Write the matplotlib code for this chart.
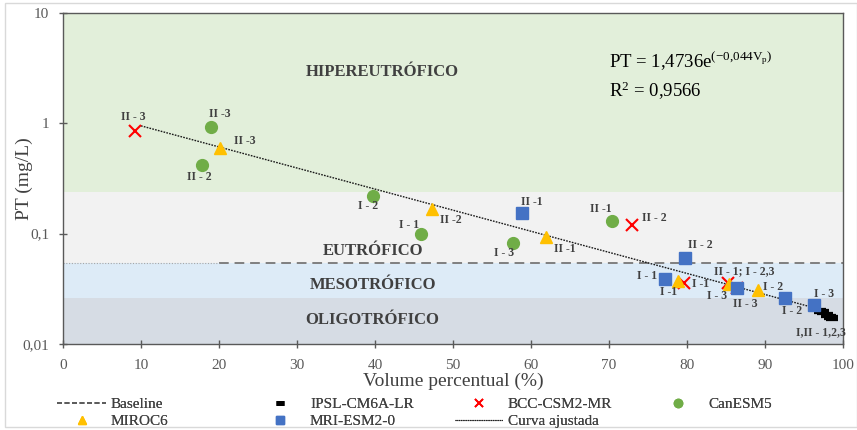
import matplotlib.pyplot as plt
import numpy as np
from matplotlib.lines import Line2D
from matplotlib.patches import Rectangle

plt.rcParams["font.family"] = ["Liberation Serif", "DejaVu Serif"]
plt.rcParams["mathtext.fontset"] = "custom"
plt.rcParams["mathtext.rm"] = "Liberation Serif"
plt.rcParams["mathtext.it"] = "Liberation Serif:italic"

# trophic classes: lower / upper PT limits (mg/L)
class_names = ["OLIGOTRÓFICO", "MESOTRÓFICO", "EUTRÓFICO", "HIPEREUTRÓFICO"]
class_limits = [0.01, 0.026, 0.054, 0.24, 10.0]
class_colors = ["#d6dce4", "#ddebf7", "#f2f2f2", "#e2efda"]

baseline_pt = 0.054
baseline_range = [20, 100]

# fitted curve  PT = a * exp(b * Vp)
fit_a = 1.4736
fit_b = -0.044
fit_r2 = 0.9566
fit_range = [10, 97.5]

ipsl_x = [97.0, 97.4, 97.9, 98.3, 98.6]
ipsl_y = [0.0198, 0.0195, 0.0185, 0.0175, 0.0172]
ipsl_lbl = ["", "", "", "", "I,II - 1,2,3"]

bcc_x = [9.2, 73.0, 79.6, 85.3, 86.4]
bcc_y = [0.85, 0.12, 0.036, 0.036, 0.032]
bcc_lbl = ["II - 3", "II - 2", "I -1", "II - 1; I - 2,3", ""]

can_x = [19.0, 17.8, 39.7, 45.9, 57.7, 70.4]
can_y = [0.92, 0.42, 0.22, 0.10, 0.082, 0.13]
can_lbl = ["II -3", "II - 2", "I - 2", "I - 1", "I - 3", "II -1"]

miroc_x = [20.1, 47.3, 61.9, 78.8, 85.4, 89.1]
miroc_y = [0.60, 0.167, 0.093, 0.037, 0.035, 0.031]
miroc_lbl = ["II -3", "II -2", "II -1", "I -1", "I - 3", "I - 2"]

mri_x = [58.8, 79.7, 77.2, 86.4, 92.6, 96.3]
mri_y = [0.154, 0.060, 0.039, 0.032, 0.026, 0.0225]
mri_lbl = ["II -1", "II - 2", "I - 1", "II - 3", "I - 2", "I - 3"]

# label offsets in points, one per point
ipsl_off = [(0, 0)] * 4 + [(-8, -10)]
bcc_off = [(-1, 10), (16, 5), (12, -1), (11.5, 8.5), (0, 0)]
can_off = [(6.5, 9.5), (-1.5, -9), (-3.5, -7), (-8.5, 6.5), (-6.5, -7), (-8.5, 8.5)]
miroc_off = [(18, 5), (13.5, -8), (13.5, -8.5), (-6.5, -8), (-9, -9), (11, 2)]
mri_off = [(7, 8), (11, 9.5), (-13, 2), (6, -11), (5, -9.5), (7, 8)]

fig = plt.figure(figsize=(8.57, 4.30), dpi=100)
ax = fig.add_axes([63 / 857, 86 / 430, 780 / 857, 331 / 430])
ax.set_yscale("log")
ax.set_xlim(0, 100)
ax.set_ylim(class_limits[0], class_limits[-1])

for lo, hi, col in zip(class_limits[:-1], class_limits[1:], class_colors):
    ax.axhspan(lo, hi, color=col, lw=0, zorder=0)

label_pos = [(39.7, 0.0166), (39.7, 0.034), (39.7, 0.069), (41.0, 2.9)]
for name, (lx, ly) in zip(class_names, label_pos):
    ax.text(lx, ly, name, ha="center", va="center", fontsize=12,
            fontweight="bold", color="#404040", zorder=2)

ax.plot(baseline_range, [baseline_pt, baseline_pt], ls=(0, (5, 3)),
        color="#7f7f7f", lw=1.4, zorder=1)
ax.plot([0, baseline_range[0]], [baseline_pt, baseline_pt], ls=(0, (1, 1.5)),
        color="#a6a6a6", lw=0.8, zorder=1)

vp = np.linspace(fit_range[0], fit_range[1], 200)
ax.plot(vp, fit_a * np.exp(fit_b * vp), ls=(0, (1.2, 0.9)), color="#1a1a1a",
        lw=1.0, zorder=3)

ax.plot(ipsl_x, ipsl_y, ls="none", marker="_", ms=8, mew=4.5, color="black", zorder=4)
ax.plot(bcc_x, bcc_y, ls="none", marker="x", ms=8, mew=1.5, color="#ff0000", zorder=4)
ax.plot(can_x, can_y, ls="none", marker="o", ms=8.5, color="#70ad47", zorder=4)
ax.plot(miroc_x, miroc_y, ls="none", marker="^", ms=9, color="#ffc000", zorder=5)
ax.plot(mri_x, mri_y, ls="none", marker="s", ms=8, color="#4472c4", zorder=5)

series = [
    (ipsl_x, ipsl_y, ipsl_lbl, ipsl_off),
    (bcc_x, bcc_y, bcc_lbl, bcc_off),
    (can_x, can_y, can_lbl, can_off),
    (miroc_x, miroc_y, miroc_lbl, miroc_off),
    (mri_x, mri_y, mri_lbl, mri_off),
]
for xs, ys, lbls, offs in series:
    for x, y, lbl, off in zip(xs, ys, lbls, offs):
        if lbl:
            ax.annotate(lbl, (x, y), xytext=off, textcoords="offset points",
                        ha="center", va="center", fontsize=8.5,
                        fontweight="bold", color="#404040", zorder=6)

ax.text(70.0, 3.7, r"PT = 1,4736e$^{\mathrm{(-0{,}044V_p)}}$", fontsize=13.5,
        color="black", va="center", ha="left")
ax.text(70.0, 1.95, "R$^2$ = " + f"{fit_r2:.4f}".replace(".", ","), fontsize=13.5,
        color="black", va="center", ha="left")

ax.set_xticks(np.arange(0, 101, 10))
ax.set_yticks([0.01, 0.1, 1, 10])
ax.set_yticklabels(["0,01", "0,1", "1", "10"])
ax.minorticks_off()
ax.tick_params(axis="both", direction="inout", length=6, width=1,
               color="#595959", labelcolor="#595959", labelsize=11)
ax.tick_params(axis="x", pad=8)
ax.tick_params(axis="y", pad=7)
for sp in ax.spines.values():
    sp.set_color("#595959")
    sp.set_linewidth(1)
ax.set_xlabel("Volume percentual (%)", fontsize=14, color="#404040", labelpad=0)
ax.set_ylabel("PT (mg/L)", fontsize=14, color="#404040", labelpad=-8)

# legend entries, each placed on its own: handle, label, handle start px,
# handle length px, text start px, row centre px
LEG_FS = 11
legend_items = [
    (Line2D([], [], ls=(0, (3, 1.5)), color="#595959", lw=1.2), "Baseline", 57, 49, 111, 404),
    (Line2D([], [], ls="none", marker="_", ms=6, mew=3.5, color="black"), "IPSL-CM6A-LR", 265, 30, 310, 404),
    (Line2D([], [], ls="none", marker="x", ms=5.5, mew=1.3, color="#ff0000"), "BCC-CSM2-MR", 464, 30, 508, 404),
    (Line2D([], [], ls="none", marker="o", ms=6, color="#70ad47"), "CanESM5", 663, 30, 708, 404),
    (Line2D([], [], ls="none", marker="^", ms=6, color="#ffc000"), "MIROC6", 67, 30, 111, 421),
    (Line2D([], [], ls="none", marker="s", ms=5.5, color="#4472c4"), "MRI-ESM2-0", 265, 30, 310, 421),
    (Line2D([], [], ls=(0, (1, 0.6)), color="#202020", lw=0.8), "Curva ajustada", 455, 48, 508, 421),
]
px_per_em = LEG_FS * 100 / 72
for handle, text, x0, hlen, tx, yc in legend_items:
    leg = fig.legend([handle], [text], loc="center left",
                     bbox_to_anchor=(x0 / 857, 1 - yc / 430), frameon=False,
                     fontsize=LEG_FS, handlelength=hlen / px_per_em,
                     handletextpad=(tx - x0 - hlen) / px_per_em,
                     borderpad=0, borderaxespad=0, labelcolor="#404040")
    fig.add_artist(leg)

fig.patches.append(Rectangle((5 / 857, 3 / 430), 1 - 5 / 857, 1 - 6 / 430,
                             transform=fig.transFigure, fill=False,
                             edgecolor="#d9d9d9", lw=1))

fig.savefig("out.png", dpi=100)
